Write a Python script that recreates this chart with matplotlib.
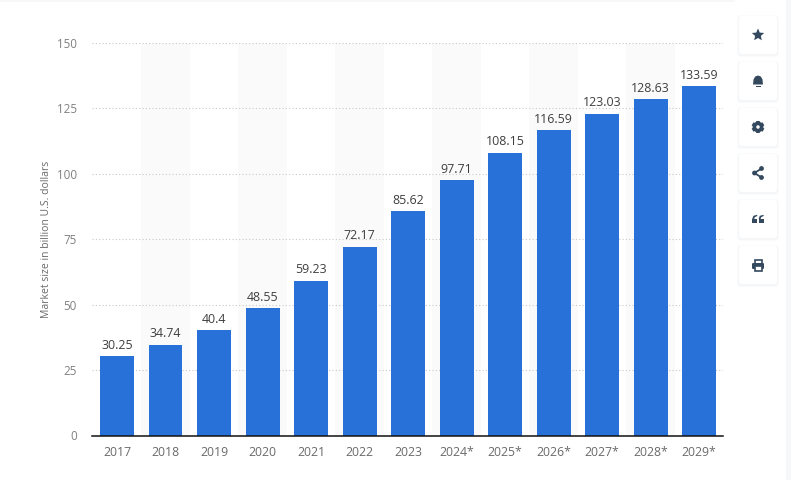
import numpy as np
import matplotlib
matplotlib.use('Agg')
import matplotlib.pyplot as plt
from matplotlib.patches import FancyBboxPatch, Circle, Rectangle, Polygon

plt.rcParams['font.family'] = ['Open Sans', 'DejaVu Sans']

# data
years = ['2017', '2018', '2019', '2020', '2021', '2022', '2023',
         '2024*', '2025*', '2026*', '2027*', '2028*', '2029*']
values = [30.25, 34.74, 40.4, 48.55, 59.23, 72.17, 85.62,
          97.71, 108.15, 116.59, 123.03, 128.63, 133.59]
value_labels = ['30.25', '34.74', '40.4', '48.55', '59.23', '72.17', '85.62',
                '97.71', '108.15', '116.59', '123.03', '128.63', '133.59']
y_ticks = [0, 25, 50, 75, 100, 125, 150]

W, H = 791, 480
BLUE = '#2771d9'
ICON = '#34495e'

fig = plt.figure(figsize=(W / 100, H / 100), dpi=100, facecolor='white')

# chart area, pixel positions from the reference
left, right, top, bottom = 92, 723, 43, 435.5
ax = fig.add_axes([left / W, 1 - bottom / H, (right - left) / W, (bottom - top) / H])
x = np.arange(len(years))

# alternating light bands behind the bars
for i in x[1::2]:
    ax.axvspan(i - 0.5, i + 0.5, color='#fafafa', lw=0, zorder=0)

ax.bar(x, values, width=0.7, color=BLUE, zorder=3)

for xi, v, lab in zip(x, values, value_labels):
    ax.annotate(lab, (xi, v), xytext=(0, 3), textcoords='offset points',
                ha='center', va='bottom', fontsize=8.9, color='#3f3f3f', zorder=4)

ax.set_xlim(-0.515, 12.49)
ax.set_ylim(0, 150)
ax.set_xticks(x)
ax.set_xticklabels(years, fontsize=8.8, color='#6a6a6a')
ax.set_yticks(y_ticks)
ax.set_yticklabels([str(t) for t in y_ticks], fontsize=8.4, color='#808080')
ax.tick_params(axis='both', length=0)
ax.tick_params(axis='x', pad=7.5)
ax.tick_params(axis='y', pad=11)
ax.set_ylabel('Market size in billion U.S. dollars', fontsize=7.5, color='#6a6a6a', labelpad=3)
ax.yaxis.grid(True, linestyle=(0, (1, 2)), color='#c8c8c8', linewidth=0.8, zorder=1)
ax.set_axisbelow(True)
for s in ['top', 'right', 'left']:
    ax.spines[s].set_visible(False)
ax.spines['bottom'].set_color('#111111')
ax.spines['bottom'].set_linewidth(1.1)
ax.spines['bottom'].set_zorder(5)
ax.patch.set_alpha(0)

# toolbar on the right, drawn in pixel coordinates
ov = fig.add_axes([0, 0, 1, 1], facecolor='none', zorder=10)
ov.set_xlim(0, W)
ov.set_ylim(H, 0)
ov.axis('off')

ov.add_patch(Rectangle((786, 0), 5, H, color='#f6f7f9', lw=0))
ov.add_patch(Rectangle((0, 0), 735, 2, color='#f6f7f9', lw=0))

centers = [35, 81, 127, 173, 219, 265]
cx = 758
for cy in centers:
    for grow, col in [(4, '#fafbfc'), (2, '#f5f6f8')]:
        ov.add_patch(FancyBboxPatch((cx - 19 - grow / 2, cy - 19 - grow / 2 + 1), 38 + grow, 38 + grow,
                                    boxstyle='round,pad=0,rounding_size=4', fc=col, ec='none'))
    ov.add_patch(FancyBboxPatch((cx - 19, cy - 19), 38, 38,
                                boxstyle='round,pad=0,rounding_size=3', fc='white', ec='none'))

# star
angles = np.deg2rad(np.arange(-90, 270, 36))
radii = np.array([6.5, 3] * 5)
ov.add_patch(Polygon(np.c_[cx + radii * np.cos(angles), centers[0] + radii * np.sin(angles)],
                     fc=ICON, ec='none'))

# bell
cy = centers[1]
ov.add_patch(Polygon([(cx - 5, cy + 3.5), (cx - 4.5, cy - 1.5), (cx - 2.8, cy - 4.5), (cx, cy - 5.5),
                      (cx + 2.8, cy - 4.5), (cx + 4.5, cy - 1.5), (cx + 5, cy + 3.5)], fc=ICON, ec='none'))
ov.add_patch(Rectangle((cx - 2.5, cy + 4.8), 5, 1.2, fc=ICON, ec='none'))

# gear
cy = centers[2]
ov.add_patch(Circle((cx, cy), 3.6, fc='none', ec=ICON, lw=2.6))
for a in np.deg2rad(np.arange(30, 390, 60)):
    ov.plot([cx + 4 * np.cos(a), cx + 6.3 * np.cos(a)], [cy + 4 * np.sin(a), cy + 6.3 * np.sin(a)],
            color=ICON, lw=2.6, solid_capstyle='butt')

# share
cy = centers[3]
nodes = [(cx + 3.5, cy - 4.5), (cx - 3.5, cy), (cx + 3.5, cy + 4.5)]
ov.plot(*zip(*nodes), color=ICON, lw=1.3)
for n in nodes:
    ov.add_patch(Circle(n, 2.4, fc=ICON, ec='none'))

# quotes
cy = centers[4]
for dx in (-3.2, 3.2):
    ov.add_patch(Rectangle((cx + dx - 2.6, cy - 0.5), 5, 4.2, fc=ICON, ec='none'))
    ov.add_patch(Polygon([(cx + dx - 2.6, cy), (cx + dx - 1.4, cy - 3.2), (cx + dx + 2.4, cy - 4.2),
                          (cx + dx + 2.4, cy - 3), (cx + dx, cy - 1.8), (cx + dx - 0.6, cy)], fc=ICON, ec='none'))

# printer
cy = centers[5]
ov.add_patch(Rectangle((cx - 3.5, cy - 5.5), 7, 4, fc='white', ec=ICON, lw=1.2))
ov.add_patch(FancyBboxPatch((cx - 6, cy - 2), 12, 6, boxstyle='round,pad=0,rounding_size=1.2', fc=ICON, ec='none'))
ov.add_patch(Rectangle((cx - 3.5, cy + 1), 7, 4.5, fc='white', ec=ICON, lw=1.2))

fig.savefig('out.png', dpi=100, facecolor='white')
